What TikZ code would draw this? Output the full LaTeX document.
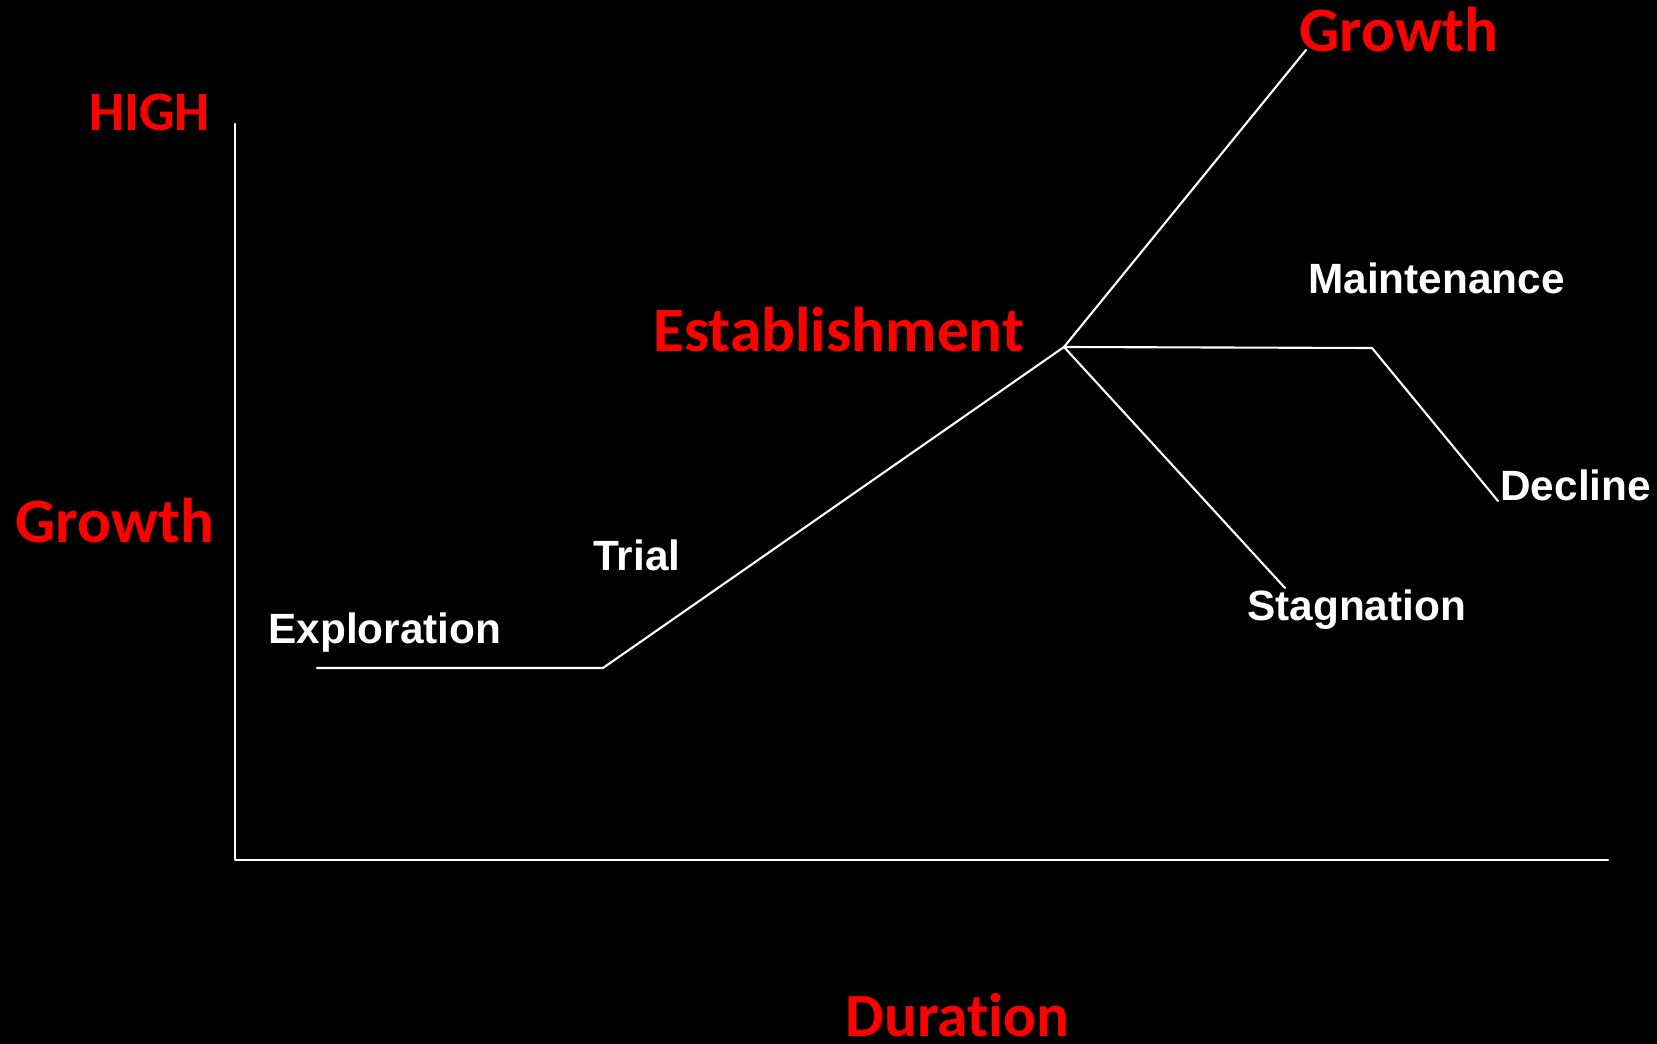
\documentclass[tikz,border=0pt]{standalone}
\usepackage{fontspec}
\setmainfont{Liberation Sans}
\newfontfamily\calfont[Ligatures=NoCommon]{Carlito}
\begin{document}
\begin{tikzpicture}[x=0.02cm, y=-0.02cm, line join=round, line cap=round]
				\tikzset{
				lab/.style={white, inner sep=0, anchor=base west, font=\fontsize{24.1}{28}\selectfont\bfseries},
				redlab/.style={red, inner sep=0, anchor=base west, font=\calfont\fontsize{36}{42}\selectfont\bfseries},
				curve/.style={white, line width=1.2pt}
				}
				\fill[black] (0,0) rectangle (1657,1044);
				\useasboundingbox (0,0) rectangle (1657,1044);
				%% Khai bao diem
				\path 
				(235,860) coordinate (O)
				(235,124) coordinate (T)
				(1608,860) coordinate (R)
				(317,668) coordinate (E1)
				(603,668) coordinate (E2)
				(1064,347) coordinate (B)
				(1306,50) coordinate (G)
				(1372,348) coordinate (M)
				(1498,501) coordinate (D)
				(1285,588) coordinate (S)
				;
				%% truc
				\draw[curve] (T)--(O)--(R);
				%% duong phat trien
				\draw[curve] (E1)--(E2)--(B)--(G);
				\draw[curve] (B)--(M)--(D);
				\draw[curve] (B)--(S);
				%% nhan
				\foreach \n/\xx/\yy in {Exploration/268/643,Trial/593/570,Maintenance/1308/294,Decline/1500/500,Stagnation/1247/620}
				\node[lab] (\n) at (\xx,\yy) {\n};
				\node[redlab, font=\calfont\fontsize{31.7}{36}\selectfont\bfseries] (high) at (89,131) {HIGH};
				\node[redlab] (growthY) at (15,542) {Growth};
				\node[redlab] (growthTop) at (1299,52) {Growth};
				\node[redlab] (est) at (653,352) {Establishment};
				\node[redlab, font=\calfont\fontsize{35}{40}\selectfont\bfseries] (dur) at (845,1036) {Duration};
		\end{tikzpicture}
\end{document}
